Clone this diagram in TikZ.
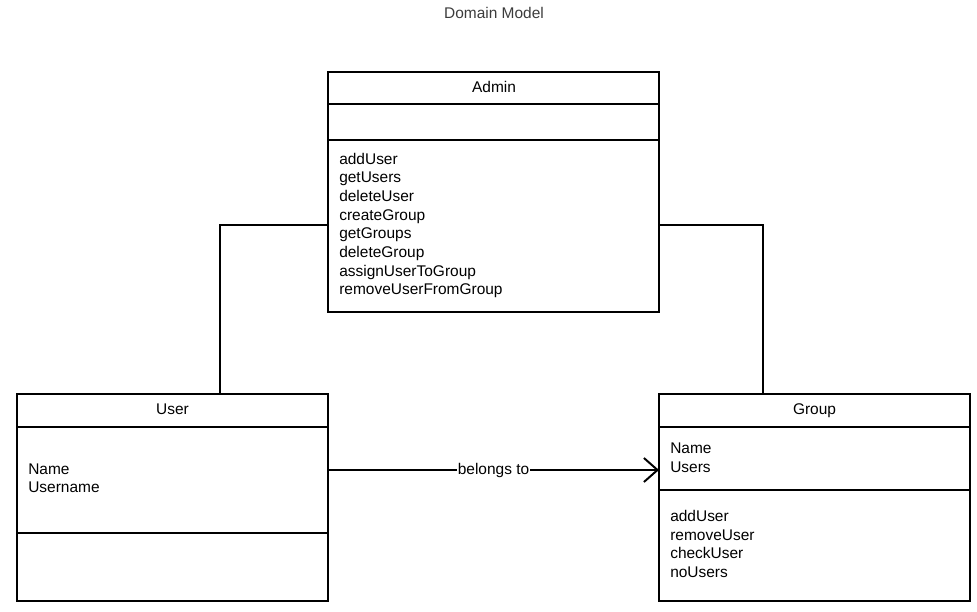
\documentclass[tikz,border=0pt]{standalone}
\usepackage{fontspec}
\setmainfont{Liberation Sans}
\usetikzlibrary{arrows.meta}
\definecolor{titlegray}{RGB}{60,60,60}
\tikzset{
    classbox/.style={draw, line width=1.4pt, anchor=north west, inner sep=0pt, outer sep=0pt},
    divider/.style={line width=1.4pt},
    link/.style={line width=1.4pt},
    member/.style={anchor=base west, inner sep=0pt, font=\fontsize{11}{13.3}\selectfont},
    heading/.style={anchor=base, inner sep=0pt, font=\fontsize{11}{13.3}\selectfont},
}

\begin{document}
\begin{tikzpicture}[x=0.025cm, y=-0.025cm]
    \useasboundingbox (0,0) rectangle (977,611);
    % Title
    \node[heading, text=titlegray] (title) at (494,19) {Domain Model};
    % Admin
    \node[classbox, minimum width=8.275cm, minimum height=6cm] (admin) at (328,72) {};
    \draw[divider] (328,104) -- (659,104) (328,140) -- (659,140);
    \node[heading] (admin-name) at (494,93) {Admin};
    \foreach \m [count=\i from 0] in {addUser,getUsers,deleteUser,createGroup,getGroups,deleteGroup,assignUserToGroup,removeUserFromGroup}
        \node[member] (admin-m\i) at (339,{164+18.7*\i}) {\m};
    % User
    \node[classbox, minimum width=7.775cm, minimum height=5.175cm] (user) at (17,394) {};
    \draw[divider] (17,427) -- (328,427) (17,533) -- (328,533);
    \node[heading] (user-name) at (172.5,414) {User};
    \foreach \m [count=\i from 0] in {Name,Username}
        \node[member] (user-a\i) at (28,{474+18.7*\i}) {\m};
    % Group
    \node[classbox, minimum width=7.775cm, minimum height=5.175cm] (group) at (659,394) {};
    \draw[divider] (659,427) -- (970,427) (659,490) -- (970,490);
    \node[heading] (group-name) at (814.5,414) {Group};
    \foreach \m [count=\i from 0] in {Name,Users}
        \node[member] (group-a\i) at (670,{453.5+18.7*\i}) {\m};
    \foreach \m [count=\i from 0] in {addUser,removeUser,checkUser,noUsers}
        \node[member] (group-m\i) at (670,{521.5+18.7*\i}) {\m};
    % Links
    \coordinate (user-link) at (220,394);
    \coordinate (group-link) at (763,394);
    \draw[link] (admin.west) ++(0,33) -| (user-link);
    \draw[link] (admin.east) ++(0,33) -| (group-link);
    \draw[link, -{Straight Barb[length=3.4mm, width=6mm]}] (user.east |- 0,470) -- node[fill=white, inner sep=0.5pt, font=\fontsize{11}{13.3}\selectfont] (belongs) {belongs to} (group.west |- 0,470);
\end{tikzpicture}
\end{document}
